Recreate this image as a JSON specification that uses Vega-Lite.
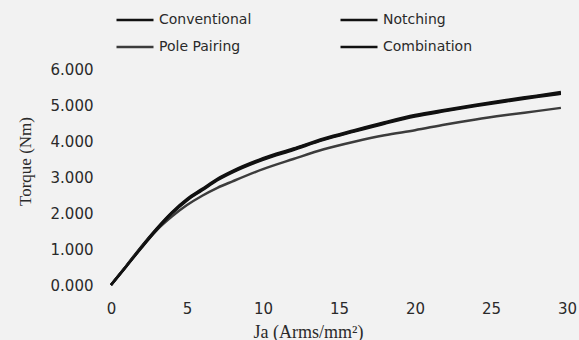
{
  "$schema": "https://vega.github.io/schema/vega-lite/v6.json",
  "width": 456,
  "height": 216,
  "autosize": "none",
  "padding": {"left": 111, "top": 69, "right": 12, "bottom": 55},
  "background": "#f2f2f2",
  "config": {
    "view": {"stroke": null},
    "font": "DejaVu Sans"
  },
  "data": {
    "values": [
      {"series": "Conventional", "ja": 0, "t": 0}, {"series": "Conventional", "ja": 1, "t": 0.52}, {"series": "Conventional", "ja": 2, "t": 1.05}, {"series": "Conventional", "ja": 3, "t": 1.55},
      {"series": "Conventional", "ja": 4, "t": 2.0}, {"series": "Conventional", "ja": 5, "t": 2.37}, {"series": "Conventional", "ja": 6, "t": 2.65}, {"series": "Conventional", "ja": 7, "t": 2.93},
      {"series": "Conventional", "ja": 8, "t": 3.15}, {"series": "Conventional", "ja": 10, "t": 3.5}, {"series": "Conventional", "ja": 12, "t": 3.77}, {"series": "Conventional", "ja": 14, "t": 4.05},
      {"series": "Conventional", "ja": 16, "t": 4.28}, {"series": "Conventional", "ja": 18, "t": 4.5}, {"series": "Conventional", "ja": 20, "t": 4.7}, {"series": "Conventional", "ja": 22, "t": 4.85},
      {"series": "Conventional", "ja": 24, "t": 4.99}, {"series": "Conventional", "ja": 26, "t": 5.12}, {"series": "Conventional", "ja": 28, "t": 5.24}, {"series": "Conventional", "ja": 29.6, "t": 5.33},

      {"series": "Notching", "ja": 0, "t": 0}, {"series": "Notching", "ja": 1, "t": 0.53}, {"series": "Notching", "ja": 2, "t": 1.07}, {"series": "Notching", "ja": 3, "t": 1.57},
      {"series": "Notching", "ja": 4, "t": 2.02}, {"series": "Notching", "ja": 5, "t": 2.39}, {"series": "Notching", "ja": 6, "t": 2.67}, {"series": "Notching", "ja": 7, "t": 2.95},
      {"series": "Notching", "ja": 8, "t": 3.17}, {"series": "Notching", "ja": 10, "t": 3.52}, {"series": "Notching", "ja": 12, "t": 3.79}, {"series": "Notching", "ja": 14, "t": 4.07},
      {"series": "Notching", "ja": 16, "t": 4.3}, {"series": "Notching", "ja": 18, "t": 4.52}, {"series": "Notching", "ja": 20, "t": 4.72}, {"series": "Notching", "ja": 22, "t": 4.87},
      {"series": "Notching", "ja": 24, "t": 5.01}, {"series": "Notching", "ja": 26, "t": 5.14}, {"series": "Notching", "ja": 28, "t": 5.26}, {"series": "Notching", "ja": 29.6, "t": 5.36},

      {"series": "Pole Pairing", "ja": 0, "t": 0}, {"series": "Pole Pairing", "ja": 1, "t": 0.52}, {"series": "Pole Pairing", "ja": 2, "t": 1.04}, {"series": "Pole Pairing", "ja": 3, "t": 1.52},
      {"series": "Pole Pairing", "ja": 4, "t": 1.9}, {"series": "Pole Pairing", "ja": 5, "t": 2.22}, {"series": "Pole Pairing", "ja": 6, "t": 2.48}, {"series": "Pole Pairing", "ja": 7, "t": 2.7},
      {"series": "Pole Pairing", "ja": 8, "t": 2.88}, {"series": "Pole Pairing", "ja": 10, "t": 3.22}, {"series": "Pole Pairing", "ja": 12, "t": 3.5}, {"series": "Pole Pairing", "ja": 14, "t": 3.77},
      {"series": "Pole Pairing", "ja": 16, "t": 3.98}, {"series": "Pole Pairing", "ja": 18, "t": 4.16}, {"series": "Pole Pairing", "ja": 20, "t": 4.3}, {"series": "Pole Pairing", "ja": 22, "t": 4.46},
      {"series": "Pole Pairing", "ja": 24, "t": 4.6}, {"series": "Pole Pairing", "ja": 26, "t": 4.72}, {"series": "Pole Pairing", "ja": 28, "t": 4.83}, {"series": "Pole Pairing", "ja": 29.6, "t": 4.92},

      {"series": "Combination", "ja": 0, "t": 0}, {"series": "Combination", "ja": 1, "t": 0.51}, {"series": "Combination", "ja": 2, "t": 1.03}, {"series": "Combination", "ja": 3, "t": 1.53},
      {"series": "Combination", "ja": 4, "t": 1.98}, {"series": "Combination", "ja": 5, "t": 2.35}, {"series": "Combination", "ja": 6, "t": 2.63}, {"series": "Combination", "ja": 7, "t": 2.91},
      {"series": "Combination", "ja": 8, "t": 3.13}, {"series": "Combination", "ja": 10, "t": 3.48}, {"series": "Combination", "ja": 12, "t": 3.75}, {"series": "Combination", "ja": 14, "t": 4.03},
      {"series": "Combination", "ja": 16, "t": 4.26}, {"series": "Combination", "ja": 18, "t": 4.48}, {"series": "Combination", "ja": 20, "t": 4.68}, {"series": "Combination", "ja": 22, "t": 4.83},
      {"series": "Combination", "ja": 24, "t": 4.97}, {"series": "Combination", "ja": 26, "t": 5.1}, {"series": "Combination", "ja": 28, "t": 5.22}, {"series": "Combination", "ja": 29.6, "t": 5.31}
    ]
  },
  "mark": {"type": "line", "interpolate": "monotone"},
  "encoding": {
    "x": {
      "field": "ja", "type": "quantitative",
      "scale": {"domain": [0, 30], "nice": false},
      "axis": {
        "values": [0, 5, 10, 15, 20, 25, 30],
        "domain": false, "ticks": false, "grid": false,
        "labelFont": "DejaVu Sans", "labelFontSize": 15, "labelColor": "#2a2a2a",
        "labelPadding": 16, "labelFlush": false,
        "title": "Ja (Arms/mm²)",
        "titleFont": "Liberation Serif", "titleFontSize": 18, "titleFontWeight": "normal", "titleColor": "#2a2a2a",
        "titleX": 197, "titleY": 47, "titleBaseline": "middle", "titleAlign": "center"
      }
    },
    "y": {
      "field": "t", "type": "quantitative",
      "scale": {"domain": [0, 6], "nice": false},
      "axis": {
        "values": [0, 1, 2, 3, 4, 5, 6], "format": ".3f",
        "domain": false, "ticks": false, "grid": false,
        "labelFont": "DejaVu Sans", "labelFontSize": 15, "labelColor": "#2a2a2a",
        "labelPadding": 18,
        "title": "Torque (Nm)",
        "titleFont": "Liberation Serif", "titleFontSize": 17, "titleFontWeight": "normal", "titleColor": "#2a2a2a",
        "titleX": -86, "titleY": 92, "titleAngle": -90, "titleBaseline": "middle", "titleAlign": "center"
      }
    },
    "color": {
      "field": "series", "type": "nominal",
      "scale": {
        "domain": ["Conventional", "Notching", "Pole Pairing", "Combination"],
        "range": ["#111111", "#111111", "#3c3c3c", "#111111"]
      },
      "legend": {
        "orient": "none", "legendX": 4, "legendY": -69,
        "direction": "horizontal", "columns": 2,
        "title": null, "padding": 0,
        "symbolType": "stroke", "symbolSize": 1369, "symbolStrokeWidth": 2,
        "labelFont": "DejaVu Sans", "labelFontSize": 14, "labelColor": "#2a2a2a",
        "labelOffset": 4, "columnPadding": 83, "rowPadding": -9, "labelLimit": 200
      }
    },
    "strokeWidth": {
      "field": "series", "type": "nominal",
      "scale": {
        "domain": ["Conventional", "Notching", "Pole Pairing", "Combination"],
        "range": [2.5, 2.5, 1.6, 2.5]
      },
      "legend": null
    }
  }
}
